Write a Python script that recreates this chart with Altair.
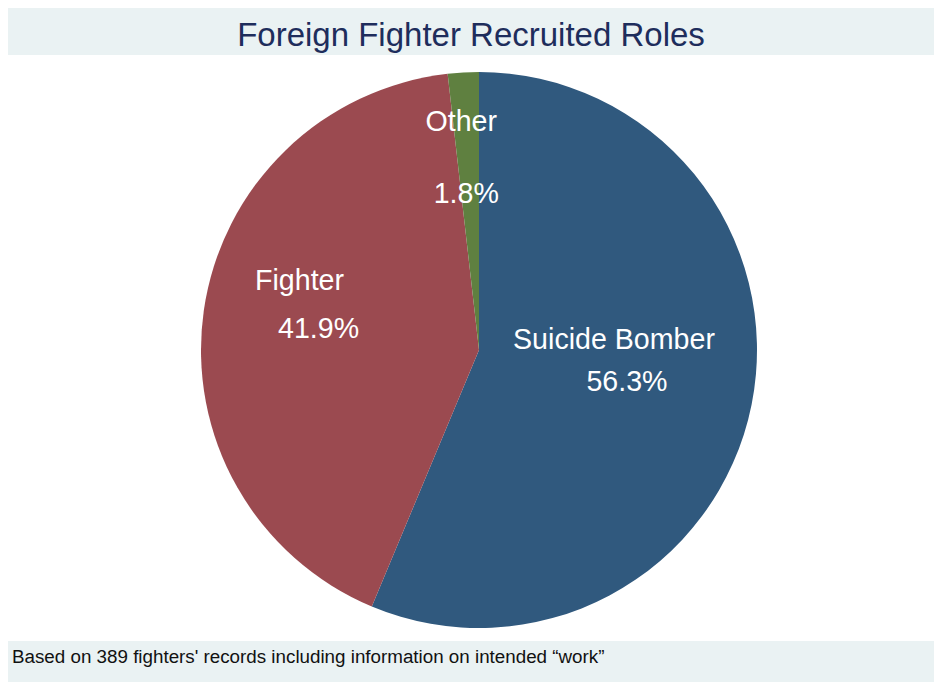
import altair as alt
import pandas as pd

# ---- data ----
roles = ["Suicide Bomber", "Fighter", "Other"]
shares = [56.3, 41.9, 1.8]
pct_labels = ["56.3%", "41.9%", "1.8%"]
slice_order = [0, 1, 2]
title_text = "Foreign Fighter Recruited Roles"
note_text = "Based on 389 fighters' records including information on intended \u201cwork\u201d"

# ---- style ----
colors = ["#30597E", "#9B4A50", "#5F8040"]
FONT = "Liberation Sans"
W, H = 926, 586          # plot (white) region
CX, CY, R = 471, 295, 278  # pie centre / radius inside the plot region
LR = 155                 # label radius
LABEL_SIZE = 28.6
name_nudge = {"Suicide Bomber": (-17, -40), "Fighter": (-26, -47), "Other": (-9, -73)}
pct_nudge = {"Suicide Bomber": (-4, 2), "Fighter": (-7, 1), "Other": (-4, -1)}

df = pd.DataFrame({"role": roles, "share": shares, "label": pct_labels, "order": slice_order})
theta_scale = alt.Scale(domain=[0, 100])

pie = alt.Chart(df).mark_arc(outerRadius=R, strokeWidth=0).encode(
    theta=alt.Theta("share:Q", stack=True, scale=theta_scale),
    order=alt.Order("order:Q"),
    color=alt.Color("role:N", scale=alt.Scale(domain=roles, range=colors), legend=None),
    x=alt.value(CX),
    y=alt.value(CY),
)

base = (
    alt.Chart(df)
    .transform_window(cum="sum(share)", sort=[alt.SortField("order")], frame=[None, 0])
    .transform_calculate(mid="datum.cum - datum.share / 2")
)

layers = [pie]
for role in roles:
    ndx, ndy = name_nudge[role]
    pdx, pdy = pct_nudge[role]
    sub = base.transform_filter(alt.datum.role == role)
    layers.append(
        sub.mark_text(radius=LR, font=FONT, fontSize=LABEL_SIZE, color="white", dx=ndx, dy=ndy,
                      align="center", baseline="middle").encode(
            theta=alt.Theta("mid:Q", stack=None, scale=theta_scale),
            text="role:N",
            x=alt.value(CX), y=alt.value(CY),
        )
    )
    layers.append(
        sub.mark_text(radius=LR, font=FONT, fontSize=LABEL_SIZE, color="white", dx=pdx, dy=pdy,
                      align="center", baseline="middle").encode(
            theta=alt.Theta("mid:Q", stack=None, scale=theta_scale),
            text="label:N",
            x=alt.value(CX), y=alt.value(CY),
        )
    )

note = alt.Chart(pd.DataFrame({"note": [note_text]})).mark_text(
    font=FONT, fontSize=18.8, color="#111111", align="left", baseline="middle"
).encode(text="note:N", x=alt.value(4), y=alt.value(602))
layers.append(note)

chart = (
    alt.layer(*layers)
    .properties(
        width=W,
        height=H,
        title=alt.TitleParams(title_text, font=FONT, fontSize=33, fontWeight="normal",
                              color="#1E2D5C", anchor="middle", offset=2),
        autosize=alt.AutoSizeParams(type="none"),
        padding={"left": 0, "top": 47, "right": 0, "bottom": 41},
        background="#EAF2F3",
    )
    .configure_view(fill="white", stroke=None)
)

chart.save("out.html", embed_options={"renderer": "svg", "actions": False})
